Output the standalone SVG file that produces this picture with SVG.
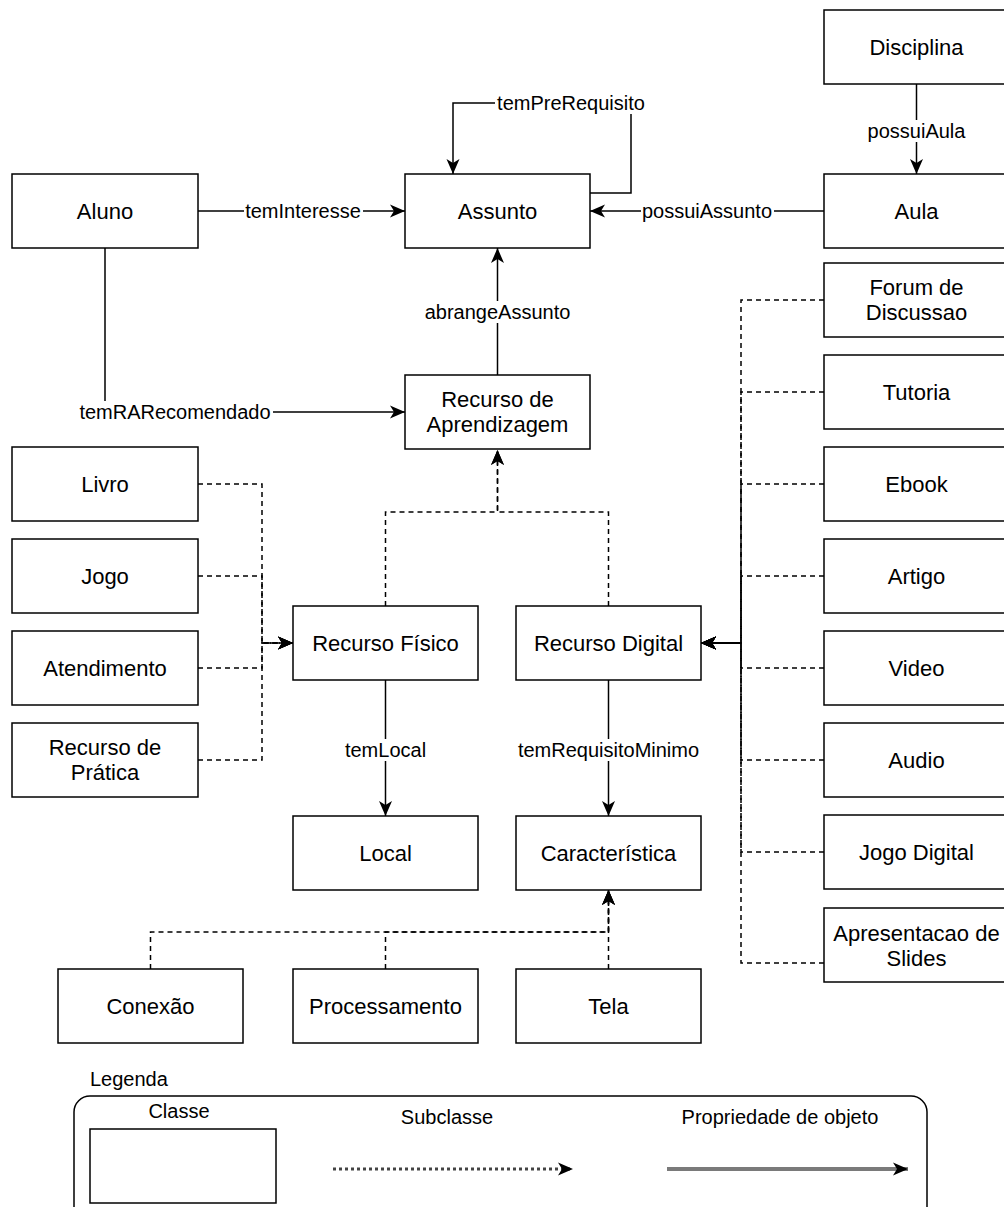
<svg xmlns="http://www.w3.org/2000/svg" width="1004" height="1207" viewBox="0 0 1004 1207">
  <style>
    .box { fill: #fff; stroke: #000; stroke-width: 1.5; }
    .lbl { font-family: "Liberation Sans", Arial, Helvetica, sans-serif; font-size: 22px; fill: #000; text-anchor: middle; dominant-baseline: central; }
    .elbl { font-family: "Liberation Sans", Arial, Helvetica, sans-serif; font-size: 20px; fill: #000; text-anchor: middle; dominant-baseline: central; }
    .lgd { font-family: "Liberation Sans", Arial, Helvetica, sans-serif; font-size: 20px; fill: #000; dominant-baseline: central; }
    .prop { fill: none; stroke: #000; stroke-width: 1.5; marker-end: url(#arrow); }
    .sub { fill: none; stroke: #000; stroke-width: 1.5; stroke-dasharray: 5 4; marker-end: url(#arrow); }
    .bg { fill: #fff; }
  </style>
  <defs>
    <marker id="arrow" markerUnits="userSpaceOnUse" markerWidth="16" markerHeight="16" viewBox="0 0 16 16" refX="15" refY="8" orient="auto">
      <path d="M0,1.5 L15,8 L0,14.5 L4,8 Z" fill="#000"/>
    </marker>
  </defs>

  <!-- connectors -->
  <g id="connectors">
    <!-- object properties -->
    <path class="prop" d="M916.5,84 V174"/>
    <path class="prop" d="M824,211 H590"/>
    <path class="prop" d="M198,211 H405"/>
    <path class="prop" d="M590,193 H631 V103 H453 V174"/>
    <path class="prop" d="M497.5,375 V248"/>
    <path class="prop" d="M105,248 V412 H405"/>
    <path class="prop" d="M385.5,680 V816"/>
    <path class="prop" d="M608.5,680 V816"/>

    <!-- subclass links into Recurso de Aprendizagem -->
    <path class="sub" d="M385.5,606 V512 H497.5 V450"/>
    <path class="sub" d="M608.5,606 V512 H497.5 V450"/>

    <!-- subclass links into Recurso Físico -->
    <path class="sub" d="M198,484 H262 V643 H293"/>
    <path class="sub" d="M198,576 H262 V643 H293"/>
    <path class="sub" d="M198,668 H262 V643 H293"/>
    <path class="sub" d="M198,760 H262 V643 H293"/>

    <!-- subclass links into Recurso Digital -->
    <path class="sub" d="M824,300 H741 V643 H701"/>
    <path class="sub" d="M824,392 H741 V643 H701"/>
    <path class="sub" d="M824,484 H741 V643 H701"/>
    <path class="sub" d="M824,576 H741 V643 H701"/>
    <path class="sub" d="M824,668 H741 V643 H701"/>
    <path class="sub" d="M824,760 H741 V643 H701"/>
    <path class="sub" d="M824,852 H741 V643 H701"/>
    <path class="sub" d="M824,963 H741 V643 H701"/>

    <!-- subclass links into Característica -->
    <path class="sub" d="M150.5,969 V932 H608.5 V890"/>
    <path class="sub" d="M385.5,969 V932 H608.5 V890"/>
    <path class="sub" d="M608.5,969 V890"/>

    <!-- edge labels -->
    <rect class="bg" x="866" y="120" width="101" height="22"/>
    <text class="elbl" x="916.5" y="131">possuiAula</text>
    <rect class="bg" x="641" y="200" width="133" height="22"/>
    <text class="elbl" x="707" y="211">possuiAssunto</text>
    <rect class="bg" x="244" y="200" width="119" height="22"/>
    <text class="elbl" x="303" y="211">temInteresse</text>
    <rect class="bg" x="495" y="92" width="152" height="22"/>
    <text class="elbl" x="571" y="103">temPreRequisito</text>
    <rect class="bg" x="424" y="301" width="151" height="22"/>
    <text class="elbl" x="497.5" y="312">abrangeAssunto</text>
    <rect class="bg" x="78" y="401" width="195" height="22"/>
    <text class="elbl" x="175" y="412">temRARecomendado</text>
    <rect class="bg" x="344" y="739" width="84" height="22"/>
    <text class="elbl" x="385.5" y="750">temLocal</text>
    <rect class="bg" x="517" y="739" width="184" height="22"/>
    <text class="elbl" x="608.5" y="750">temRequisitoMinimo</text>
  </g>

  <!-- classes -->
  <g id="disciplina"><rect class="box" x="824" y="10" width="186" height="74"/><text class="lbl" x="916.5" y="47">Disciplina</text></g>
  <g id="aula"><rect class="box" x="824" y="174" width="186" height="74"/><text class="lbl" x="916.5" y="211">Aula</text></g>
  <g id="assunto"><rect class="box" x="405" y="174" width="185" height="74"/><text class="lbl" x="497.5" y="211">Assunto</text></g>
  <g id="aluno"><rect class="box" x="12" y="174" width="186" height="74"/><text class="lbl" x="105" y="211">Aluno</text></g>
  <g id="recurso-aprendizagem"><rect class="box" x="405" y="375" width="185" height="74"/><text class="lbl" x="497.5" y="399.5">Recurso de</text><text class="lbl" x="497.5" y="424.5">Aprendizagem</text></g>

  <g id="livro"><rect class="box" x="12" y="447" width="186" height="74"/><text class="lbl" x="105" y="484">Livro</text></g>
  <g id="jogo"><rect class="box" x="12" y="539" width="186" height="74"/><text class="lbl" x="105" y="576">Jogo</text></g>
  <g id="atendimento"><rect class="box" x="12" y="631" width="186" height="74"/><text class="lbl" x="105" y="668">Atendimento</text></g>
  <g id="recurso-pratica"><rect class="box" x="12" y="723" width="186" height="74"/><text class="lbl" x="105" y="747.5">Recurso de</text><text class="lbl" x="105" y="772.5">Prática</text></g>

  <g id="recurso-fisico"><rect class="box" x="293" y="606" width="185" height="74"/><text class="lbl" x="385.5" y="643">Recurso Físico</text></g>
  <g id="recurso-digital"><rect class="box" x="516" y="606" width="185" height="74"/><text class="lbl" x="608.5" y="643">Recurso Digital</text></g>
  <g id="local"><rect class="box" x="293" y="816" width="185" height="74"/><text class="lbl" x="385.5" y="853">Local</text></g>
  <g id="caracteristica"><rect class="box" x="516" y="816" width="185" height="74"/><text class="lbl" x="608.5" y="853">Característica</text></g>
  <g id="conexao"><rect class="box" x="58" y="969" width="185" height="74"/><text class="lbl" x="150.5" y="1006">Conexão</text></g>
  <g id="processamento"><rect class="box" x="293" y="969" width="185" height="74"/><text class="lbl" x="385.5" y="1006">Processamento</text></g>
  <g id="tela"><rect class="box" x="516" y="969" width="185" height="74"/><text class="lbl" x="608.5" y="1006">Tela</text></g>

  <g id="forum"><rect class="box" x="824" y="263" width="186" height="74"/><text class="lbl" x="916.5" y="287.5">Forum de</text><text class="lbl" x="916.5" y="312.5">Discussao</text></g>
  <g id="tutoria"><rect class="box" x="824" y="355" width="186" height="74"/><text class="lbl" x="916.5" y="392">Tutoria</text></g>
  <g id="ebook"><rect class="box" x="824" y="447" width="186" height="74"/><text class="lbl" x="916.5" y="484">Ebook</text></g>
  <g id="artigo"><rect class="box" x="824" y="539" width="186" height="74"/><text class="lbl" x="916.5" y="576">Artigo</text></g>
  <g id="video"><rect class="box" x="824" y="631" width="186" height="74"/><text class="lbl" x="916.5" y="668">Video</text></g>
  <g id="audio"><rect class="box" x="824" y="723" width="186" height="74"/><text class="lbl" x="916.5" y="760">Audio</text></g>
  <g id="jogo-digital"><rect class="box" x="824" y="815" width="186" height="74"/><text class="lbl" x="916.5" y="852">Jogo Digital</text></g>
  <g id="apresentacao"><rect class="box" x="824" y="908" width="186" height="74"/><text class="lbl" x="916.5" y="933.5">Apresentacao de</text><text class="lbl" x="916.5" y="958.5">Slides</text></g>

  <!-- legend -->
  <g id="legenda">
    <text class="lgd" x="90" y="1079">Legenda</text>
    <rect x="74" y="1096" width="853" height="140" rx="16" ry="16" fill="#fff" stroke="#000" stroke-width="1.5"/>
    <text class="lgd" x="179" y="1111" text-anchor="middle">Classe</text>
    <rect class="box" x="90" y="1129" width="186" height="74"/>
    <text class="lgd" x="447" y="1117" text-anchor="middle">Subclasse</text>
    <path d="M333,1169 H573" fill="none" stroke="#444" stroke-width="3" stroke-dasharray="3 3" marker-end="url(#arrow)"/>
    <text class="lgd" x="780" y="1117" text-anchor="middle">Propriedade de objeto</text>
    <path d="M667,1169 H908" fill="none" stroke="#7a7a7a" stroke-width="4" marker-end="url(#arrow)"/>
  </g>
</svg>
